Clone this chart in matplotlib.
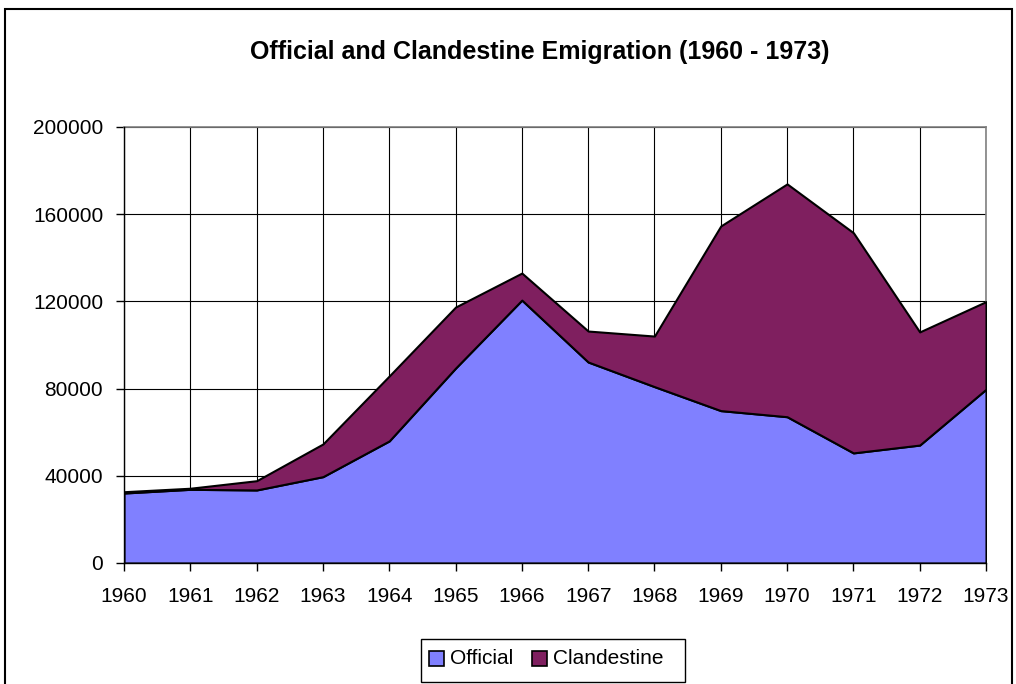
import matplotlib.pyplot as plt
from matplotlib.patches import Rectangle, Patch
from matplotlib.legend_handler import HandlerPatch

plt.rcParams['font.family'] = ['Liberation Sans', 'DejaVu Sans']

years = [1960, 1961, 1962, 1963, 1964, 1965, 1966, 1967, 1968, 1969, 1970, 1971, 1972, 1973]
official = [32100, 33800, 33500, 39600, 56000, 89400, 120600, 92200, 80900, 69900, 67100, 50500, 54100, 79700]
total = [32700, 34300, 37750, 54600, 85800, 117400, 133000, 106400, 104100, 154600, 173900, 151500, 106000, 119900]
clandestine = [t - o for t, o in zip(total, official)]

official_color = '#8080ff'
clandestine_color = '#7f1f5f'

W, H = 1016, 684
fig = plt.figure(figsize=(W / 100, H / 100), dpi=100)
ax = fig.add_axes([124 / W, 1 - 563 / H, (986 - 124) / W, (563 - 127) / H])

ax.stackplot(years, official, clandestine, colors=[official_color, clandestine_color],
             edgecolor='black', linewidth=1.5, zorder=3)

ax.set_xlim(years[0], years[-1])
ax.set_ylim(0, 200000)
ax.set_xticks(years)
ax.set_yticks(range(0, 200001, 40000))
ax.grid(True, color='black', linewidth=0.8, zorder=1)
ax.set_axisbelow(True)
for side in ['top', 'right']:
    ax.spines[side].set_color('#808080')
    ax.spines[side].set_linewidth(1.2)
for side in ['left', 'bottom']:
    ax.spines[side].set_color('black')
    ax.spines[side].set_linewidth(1.0)
    ax.spines[side].set_zorder(4)
ax.tick_params(direction='out', length=6, width=1, labelsize=15)
ax.tick_params(axis='x', pad=11)
ax.tick_params(axis='y', pad=9)

fig.text(540 / W, 1 - 52 / H, 'Official and Clandestine Emigration (1960 - 1973)',
         ha='center', va='center', fontsize=18, fontweight='bold')


# Excel draws the legend keys a little below the text centre
def low_square(legend, orig_handle, xdescent, ydescent, width, height, fontsize):
    return Rectangle((-xdescent, -ydescent - 1.5), width, height)


handles = [Patch(facecolor=official_color, edgecolor='black', linewidth=1.2, label='Official'),
           Patch(facecolor=clandestine_color, edgecolor='black', linewidth=1.2, label='Clandestine')]
leg = fig.legend(handles=handles, loc='center left', bbox_to_anchor=(429 / W, 1 - 658 / H),
                 ncol=2, fontsize=15, frameon=False, handlelength=0.72, handleheight=0.72,
                 handletextpad=0.3, columnspacing=0.9, borderpad=0, borderaxespad=0,
                 handler_map={Patch: HandlerPatch(patch_func=low_square)})

fig.patches.append(Rectangle((421 / W, 1 - 682 / H), (685 - 421) / W, (682 - 639) / H,
                             transform=fig.transFigure, fill=False, edgecolor='black',
                             linewidth=1.0))
fig.patches.append(Rectangle((5 / W, -0.05), 1007 / W, 1 - 9 / H + 0.05,
                             transform=fig.transFigure, fill=False, edgecolor='black',
                             linewidth=1.5))

fig.savefig('out.png', dpi=100)
